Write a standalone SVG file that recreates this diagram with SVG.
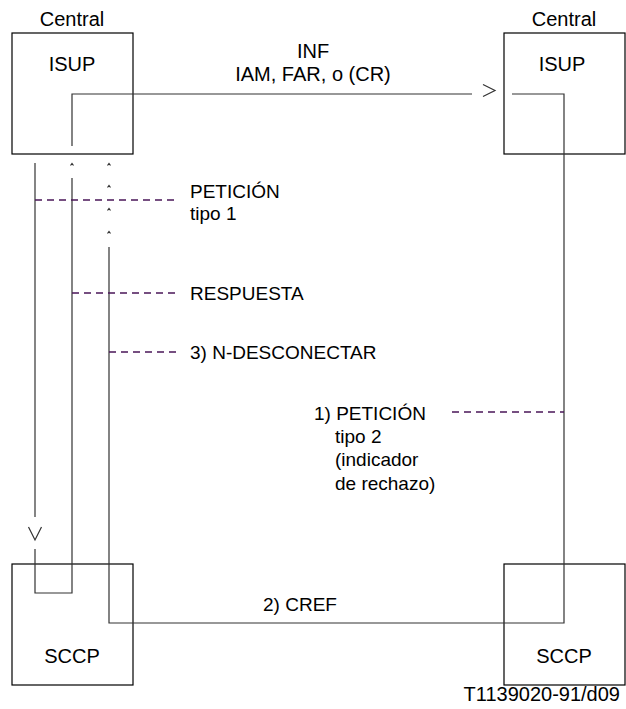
<svg xmlns="http://www.w3.org/2000/svg" width="626" height="709" viewBox="0 0 626 709">
<style>
text{font-family:"Liberation Sans",Arial,sans-serif;font-size:20px;fill:#000}
.side{font-size:19px}
.box{fill:none;stroke:#000;stroke-width:1.2}
.ln{fill:none;stroke:#333;stroke-width:1.2}
.dash{fill:none;stroke:#4a1658;stroke-width:1.3;stroke-dasharray:7 5}
.mid{text-anchor:middle}
</style>
<rect width="626" height="709" fill="#fff"/>
<g id="isup-left">
<rect class="box" x="12" y="33" width="121" height="121"/>
<text class="mid" x="72" y="26">Central</text>
<text class="mid" x="72" y="71">ISUP</text>
</g>
<g id="isup-right">
<rect class="box" x="504" y="33" width="121" height="121"/>
<text class="mid" x="564" y="26">Central</text>
<text class="mid" x="562" y="71">ISUP</text>
</g>
<g id="sccp-left">
<rect class="box" x="12" y="564" width="121" height="121"/>
<text class="mid" x="72" y="663">SCCP</text>
</g>
<g id="sccp-right">
<rect class="box" x="504" y="564" width="121" height="121"/>
<text class="mid" x="564" y="663">SCCP</text>
</g>
<g id="connectors">
<polyline class="ln" points="72,146 72,94 472,94"/>
<polyline class="ln" points="483,84.5 495,90.5 483,96.5"/>
<polyline class="ln" points="512,94 564,94 564,623 109,623 109,247"/>
<line class="ln" x1="35" y1="163" x2="35" y2="517"/>
<polyline class="ln" points="28.5,527 35,540 41.5,527"/>
<polyline class="ln" points="35,549 35,593 72,593 72,178"/>
<g class="ln" stroke-width="1">
<polyline points="70.5,165.5 72,163.5 73.5,165.5"/>
<polyline points="107.5,165.5 109,163.5 110.5,165.5"/>
<polyline points="107.5,187.5 109,185.5 110.5,187.5"/>
<polyline points="107.5,210.5 109,208.5 110.5,210.5"/>
<polyline points="107.5,233.5 109,231.5 110.5,233.5"/>
</g>
<line class="dash" x1="35" y1="200" x2="178" y2="200"/>
<line class="dash" x1="72" y1="293" x2="178" y2="293"/>
<line class="dash" x1="109" y1="352" x2="178" y2="352"/>
<line class="dash" x1="452" y1="412" x2="564" y2="412"/>
</g>
<g id="labels">
<text class="mid" x="313" y="58">INF</text>
<text class="mid" x="313" y="81">IAM, FAR, o (CR)</text>
<text class="side" x="190" y="198">PETICIÓN</text>
<text class="side" x="190" y="220">tipo 1</text>
<text class="side" x="190" y="300">RESPUESTA</text>
<text class="side" x="190" y="359">3) N-DESCONECTAR</text>
<text class="side" x="314" y="420">1) PETICIÓN</text>
<text class="side" x="335" y="443">tipo 2</text>
<text class="side" x="335" y="466">(indicador</text>
<text class="side" x="335" y="490">de rechazo)</text>
<text class="mid side" x="300" y="611">2) CREF</text>
<text x="620" y="701" text-anchor="end" font-size="15">T1139020-91/d09</text>
</g>
</svg>
